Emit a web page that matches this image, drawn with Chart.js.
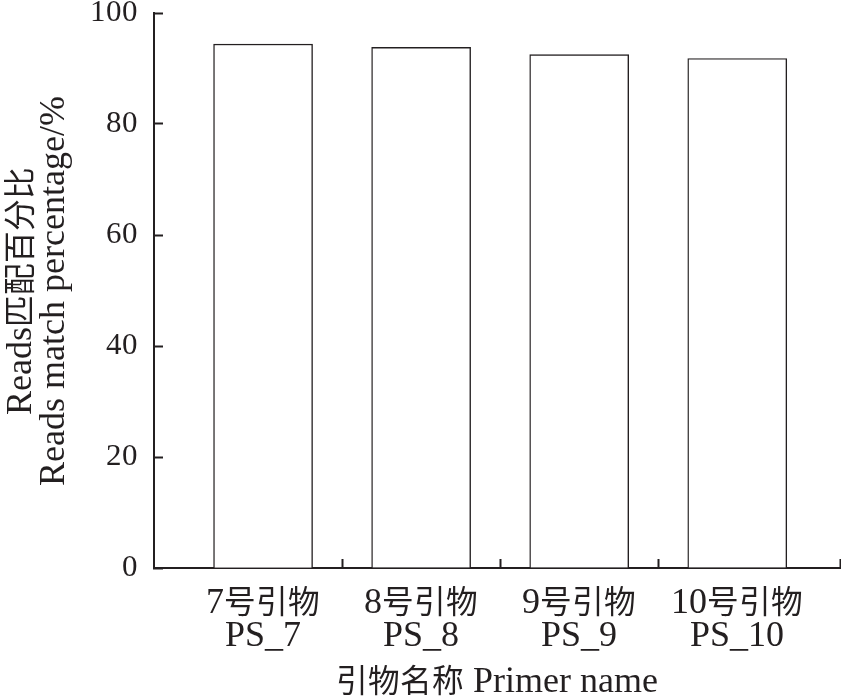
<!DOCTYPE html>
<html>
<head>
<meta charset="utf-8">
<script src="https://cdn.jsdelivr.net/npm/chart.js@4/dist/chart.umd.min.js"></script>
<style>
  @font-face { font-family: 'ChartSerif'; src: local('Liberation Serif'), local('LiberationSerif'); }
  @font-face {
    font-family: 'ChartSerif';
    src: local('Noto Sans CJK SC'), local('NotoSansCJKsc-Regular'), local('Noto Sans CJK SC Regular');
    size-adjust: 88%;
    unicode-range: U+2E80-9FFF, U+F900-FAFF, U+FF00-FFEF;
  }
  html, body { margin: 0; padding: 0; background: #fff; }
  #wrap { width: 841px; height: 699px; position: relative; }
</style>
</head>
<body>
<div id="wrap"><canvas id="c" width="841" height="699"></canvas></div>
<script>
// ---- data ----
const categoriesCN = ['7号引物', '8号引物', '9号引物', '10号引物'];
const categoriesEN = ['PS_7', 'PS_8', 'PS_9', 'PS_10'];
const matchPercent = [94.4, 93.8, 92.5, 91.8];
const yTicks = [0, 20, 40, 60, 80, 100];
const yTitle = ['Reads匹配百分比', 'Reads match percentage/%'];
const xTitle = '引物名称 Primer name';

const INK = '#231f20';
const FAMILY = '"ChartSerif", "Liberation Serif", "Times New Roman", "Noto Sans CJK SC", serif';

const boundaries = categoriesCN.slice(1).map((_, i) => i + 0.5);
const X_MIN = -0.69, X_MAX = 3.65;

function draw() {
  new Chart(document.getElementById('c'), {
    type: 'bar',
    data: {
      datasets: [{
        data: matchPercent.map((v, i) => ({ x: i, y: v })),
        backgroundColor: '#ffffff',
        borderColor: INK,
        borderWidth: 1.4,
        barThickness: 99
      }]
    },
    options: {
      responsive: false,
      animation: false,
      events: [],
      layout: { padding: { top: 13, right: 1, left: 0, bottom: 0 } },
      plugins: { legend: { display: false }, tooltip: { enabled: false } },
      scales: {
        x: {
          type: 'linear',
          min: X_MIN,
          max: X_MAX,
          offset: false,
          afterBuildTicks: (s) => {
            const vals = [];
            categoriesCN.forEach((_, i) => vals.push(i));
            boundaries.forEach(b => vals.push(b));
            vals.push(X_MAX);
            vals.sort((a, b) => a - b);
            s.ticks = vals.map(v => ({ value: v }));
          },
          afterFit: (s) => { s.height = 131; s.paddingLeft = 0; s.paddingRight = 0; },
          border: { display: true, color: INK, width: 2 },
          grid: {
            offset: false,
            drawOnChartArea: false,
            drawTicks: true,
            tickLength: -9,
            tickWidth: 2,
            tickColor: (ctx) => (ctx.tick && Number.isInteger(ctx.tick.value)) ? 'rgba(0,0,0,0)' : INK
          },
          ticks: {
            autoSkip: false,
            maxRotation: 0,
            padding: 28,
            color: INK,
            font: { family: FAMILY, size: 36, lineHeight: '33px' },
            callback: (v) => Number.isInteger(v) && v >= 0 && v < categoriesCN.length
              ? [categoriesCN[v], categoriesEN[v]] : ''
          },
          title: {
            display: true,
            text: xTitle,
            color: INK,
            font: { family: FAMILY, size: 36, lineHeight: '33px' },
            padding: { top: 0, bottom: 0 }
          }
        },
        y: {
          min: 0,
          max: 100,
          afterBuildTicks: (s) => { s.ticks = yTicks.map(v => ({ value: v })); },
          afterFit: (s) => { s.width = 154; s.paddingTop = 0; s.paddingBottom = 0; },
          border: { display: true, color: INK, width: 2 },
          grid: {
            drawOnChartArea: false,
            drawTicks: true,
            tickLength: -9,
            tickWidth: 2,
            tickColor: INK
          },
          ticks: {
            padding: 25,
            color: INK,
            font: { family: FAMILY, size: 31, lineHeight: 1.0 }
          },
          title: {
            display: true,
            text: yTitle,
            color: INK,
            font: { family: FAMILY, size: 36, lineHeight: '33px' },
            padding: { top: 5, bottom: 0 }
          }
        }
      }
    }
  });
}

if (document.fonts && document.fonts.load) {
  Promise.all([
    document.fonts.load('36px "ChartSerif"', 'Reads PS_7 0123456789'),
    document.fonts.load('36px "ChartSerif"', '号引物名称匹配百分比')
  ]).then(draw, draw);
} else {
  draw();
}
</script>
</body>
</html>
